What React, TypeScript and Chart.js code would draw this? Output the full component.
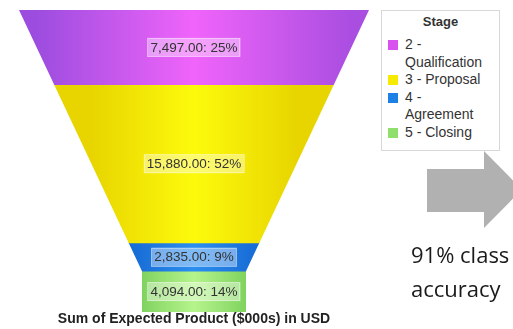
import React, { useEffect, useRef } from 'react';
import { Chart, registerables } from 'chart.js';

Chart.register(...registerables);

// ---- data ----
const STAGES = ['2 - Qualification', '3 - Proposal', '4 - Agreement', '5 - Closing'];
const VALUES = [7497, 15880, 2835, 4094];
const MEASURE_TITLE = 'Sum of Expected Product ($000s) in USD';
const LEGEND_TITLE = 'Stage';
const NOTE_LINES = ['91% class', 'accuracy'];

// ---- style ----
const SWATCH = ['#d852f0', '#f5ea00', '#1d80e6', '#8fdf6c'];
const GRAD = [
  ['#9c4ddf', '#f064fa', '#aa4ee1'],
  ['#e8d500', '#fdfa0c', '#e8d500'],
  ['#186dd6', '#2c8ff0', '#186dd6'],
  ['#80d35f', '#b6f48c', '#80d35f'],
];
const NECK_RATIO = 0.297;
const SANS = '"Liberation Sans", Arial, sans-serif';

const TOTAL = VALUES.reduce((a, b) => a + b, 0);
const CUM = VALUES.map((_, i) => VALUES.slice(0, i).reduce((a, b) => a + b, 0));

function geom(chart: any) {
  const { left, right, top, bottom } = chart.chartArea;
  const cx = (left + right) / 2;
  const half = (right - left) / 2;
  const neck = half * NECK_RATIO;
  const yNeck = chart.scales.y.getPixelForValue(TOTAL - VALUES[VALUES.length - 1]);
  const halfAt = (y: number) =>
    y >= yNeck ? neck : half - ((half - neck) * (y - top)) / (yNeck - top);
  return { left, right, top, bottom, cx, half, neck, yNeck, halfAt };
}

function fmt(v: number) {
  return v.toLocaleString('en-US', { minimumFractionDigits: 2, maximumFractionDigits: 2 });
}

const funnelPlugin = {
  id: 'funnelShape',
  beforeDatasetsDraw(chart: any) {
    const g = geom(chart);
    const ctx = chart.ctx;
    ctx.save();
    ctx.beginPath();
    ctx.moveTo(g.left, g.top);
    ctx.lineTo(g.right, g.top);
    ctx.lineTo(g.cx + g.neck, g.yNeck);
    ctx.lineTo(g.cx + g.neck, g.bottom);
    ctx.lineTo(g.cx - g.neck, g.bottom);
    ctx.lineTo(g.cx - g.neck, g.yNeck);
    ctx.closePath();
    ctx.clip();
  },
  afterDatasetsDraw(chart: any) {
    const ctx = chart.ctx;
    ctx.restore();
    ctx.save();
    ctx.font = `13.5px ${SANS}`;
    ctx.textAlign = 'center';
    ctx.textBaseline = 'middle';
    chart.data.datasets.forEach((ds: any, i: number) => {
      const el = chart.getDatasetMeta(i).data[0];
      if (!el) return;
      const v = ds.data[0];
      const text = `${fmt(v)}: ${Math.round((v / TOTAL) * 100)}%`;
      const y = (el.y + el.base) / 2;
      const x = el.x;
      const w = ctx.measureText(text).width + 6;
      const h = 19;
      ctx.fillStyle = 'rgba(255,255,255,0.4)';
      ctx.fillRect(x - w / 2, y - h / 2, w, h);
      ctx.strokeStyle = 'rgba(255,255,255,0.35)';
      ctx.lineWidth = 1;
      ctx.strokeRect(Math.round(x - w / 2) + 0.5, Math.round(y - h / 2) + 0.5, Math.round(w) - 1, h - 1);
      ctx.fillStyle = '#333';
      ctx.fillText(text, x, y + 0.5);
    });
    ctx.restore();
  },
};

export default function App() {
  const canvasRef = useRef<HTMLCanvasElement | null>(null);

  useEffect(() => {
    const canvas = canvasRef.current;
    if (!canvas) return;
    const chart = new Chart(canvas, {
      type: 'bar',
      data: {
        labels: [MEASURE_TITLE],
        datasets: STAGES.map((stage, i) => ({
          label: stage,
          data: [VALUES[i]],
          borderWidth: 0,
          barPercentage: 1,
          categoryPercentage: 1,
          backgroundColor: (c: any) => {
            const ch = c.chart;
            if (!ch.chartArea || !ch.scales || !ch.scales.y) return SWATCH[i];
            const g = geom(ch);
            const yMid = ch.scales.y.getPixelForValue(CUM[i] + VALUES[i] / 2);
            const hw = g.halfAt(yMid);
            const grad = ch.ctx.createLinearGradient(g.cx - hw, 0, g.cx + hw, 0);
            grad.addColorStop(0, GRAD[i][0]);
            grad.addColorStop(0.5, GRAD[i][1]);
            grad.addColorStop(1, GRAD[i][2]);
            return grad;
          },
        })),
      },
      options: {
        responsive: false,
        animation: false,
        devicePixelRatio: 1,
        layout: { padding: { top: 10, left: 19, right: 11, bottom: 0 } },
        scales: {
          x: { display: false, stacked: true },
          y: { display: false, stacked: true, reverse: true, min: 0, max: TOTAL },
        },
        plugins: {
          legend: { display: false },
          tooltip: { enabled: false },
          title: {
            display: true,
            text: MEASURE_TITLE,
            position: 'bottom',
            color: '#222',
            font: { family: SANS, size: 14, weight: 'bold', lineHeight: 1 },
            padding: { top: 0, bottom: 3 },
          },
        },
      },
      plugins: [funnelPlugin],
    } as any);
    return () => chart.destroy();
  }, []);

  return (
    <div
      style={{
        position: 'absolute',
        left: 0,
        top: 0,
        width: 513,
        height: 329,
        overflow: 'hidden',
        background: '#fff',
      }}
    >
      <canvas ref={canvasRef} width={380} height={329} style={{ position: 'absolute', left: 0, top: 0 }} />
      <svg width={513} height={329} style={{ position: 'absolute', left: 0, top: 0, pointerEvents: 'none' }}>
        <polygon points="427,169 484,169 484,151 522,189.5 484,228 484,212 427,212" fill="#b1b1b1" />
      </svg>
      <div
        style={{
          position: 'absolute',
          left: 381,
          top: 10,
          width: 119,
          height: 141,
          boxSizing: 'border-box',
          border: '1px solid #d8d8d8',
          background: '#fff',
          fontFamily: SANS,
          color: '#333',
        }}
      >
        <div style={{ textAlign: 'center', fontWeight: 'bold', fontSize: 13, lineHeight: '16px', marginTop: 3 }}>
          {LEGEND_TITLE}
        </div>
        <div style={{ marginTop: 6 }}>
          {STAGES.map((s, i) => (
            <div key={s} style={{ display: 'flex', alignItems: 'flex-start' }}>
              <div
                style={{
                  width: 10,
                  height: 10,
                  marginLeft: 6,
                  marginTop: 4,
                  background: SWATCH[i],
                  flex: '0 0 auto',
                }}
              />
              <div style={{ marginLeft: 7, width: 80, fontSize: 14, lineHeight: '17.6px' }}>{s}</div>
            </div>
          ))}
        </div>
      </div>
      <div
        style={{
          position: 'absolute',
          left: 411,
          top: 237,
          fontFamily: '"Open Sans", sans-serif',
          fontSize: 22,
          lineHeight: '34px',
          color: '#1a1a1a',
          whiteSpace: 'nowrap',
        }}
      >
        {NOTE_LINES.map((l) => (
          <div key={l}>{l}</div>
        ))}
      </div>
    </div>
  );
}
